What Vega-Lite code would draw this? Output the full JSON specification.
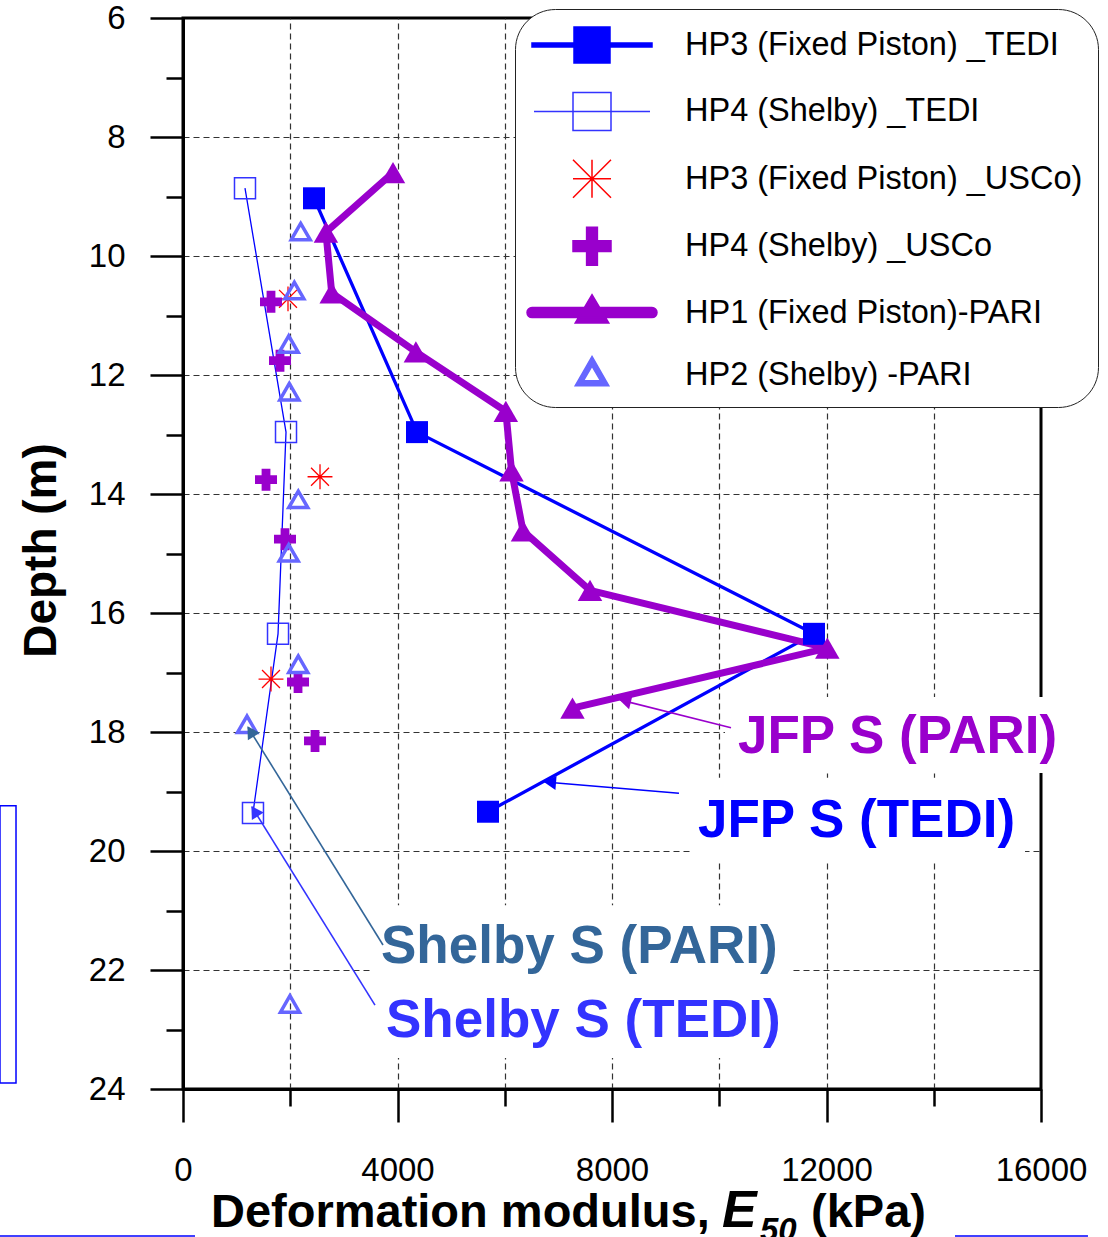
{
  "$schema": "https://vega.github.io/schema/vega-lite/v6.json",
  "width": 858,
  "height": 1071,
  "autosize": {"type": "none"},
  "padding": {"left": 183, "top": 18, "right": 67, "bottom": 148},
  "background": "white",
  "config": {
    "font": "Liberation Sans",
    "view": {"stroke": "black", "strokeWidth": 3}
  },
  "datasets": {
    "pts": [
      {"s": "HP3 (Fixed Piston) _TEDI", "E": 2443, "d": 9.03},
      {"s": "HP3 (Fixed Piston) _TEDI", "E": 4364, "d": 12.96},
      {"s": "HP3 (Fixed Piston) _TEDI", "E": 11767, "d": 16.35},
      {"s": "HP3 (Fixed Piston) _TEDI", "E": 5688, "d": 19.34},
      {"s": "HP4 (Shelby) _TEDI", "E": 1156, "d": 8.86},
      {"s": "HP4 (Shelby) _TEDI", "E": 1921, "d": 12.96},
      {"s": "HP4 (Shelby) _TEDI", "E": 1772, "d": 16.35},
      {"s": "HP4 (Shelby) _TEDI", "E": 1305, "d": 19.36},
      {"s": "HP3 (Fixed Piston) _USCo)", "E": 1958, "d": 10.72},
      {"s": "HP3 (Fixed Piston) _USCo)", "E": 2555, "d": 13.71},
      {"s": "HP3 (Fixed Piston) _USCo)", "E": 1641, "d": 17.11},
      {"s": "HP4 (Shelby) _USCo", "E": 1641, "d": 10.77},
      {"s": "HP4 (Shelby) _USCo", "E": 1809, "d": 11.76},
      {"s": "HP4 (Shelby) _USCo", "E": 1548, "d": 13.76},
      {"s": "HP4 (Shelby) _USCo", "E": 1902, "d": 14.76},
      {"s": "HP4 (Shelby) _USCo", "E": 2145, "d": 17.16},
      {"s": "HP4 (Shelby) _USCo", "E": 2462, "d": 18.15},
      {"s": "HP1 (Fixed Piston)-PARI", "E": 3916, "d": 8.6},
      {"s": "HP1 (Fixed Piston)-PARI", "E": 2665, "d": 9.6},
      {"s": "HP1 (Fixed Piston)-PARI", "E": 2773, "d": 10.62},
      {"s": "HP1 (Fixed Piston)-PARI", "E": 4343, "d": 11.61},
      {"s": "HP1 (Fixed Piston)-PARI", "E": 6020, "d": 12.61},
      {"s": "HP1 (Fixed Piston)-PARI", "E": 6126, "d": 13.61},
      {"s": "HP1 (Fixed Piston)-PARI", "E": 6340, "d": 14.62},
      {"s": "HP1 (Fixed Piston)-PARI", "E": 7590, "d": 15.62},
      {"s": "HP1 (Fixed Piston)-PARI", "E": 12015, "d": 16.59},
      {"s": "HP1 (Fixed Piston)-PARI", "E": 7263, "d": 17.6},
      {"s": "HP2 (Shelby) -PARI", "E": 2195, "d": 9.59},
      {"s": "HP2 (Shelby) -PARI", "E": 2076, "d": 10.58},
      {"s": "HP2 (Shelby) -PARI", "E": 1971, "d": 11.48},
      {"s": "HP2 (Shelby) -PARI", "E": 1983, "d": 12.28},
      {"s": "HP2 (Shelby) -PARI", "E": 2150, "d": 14.09},
      {"s": "HP2 (Shelby) -PARI", "E": 1971, "d": 14.99},
      {"s": "HP2 (Shelby) -PARI", "E": 2150, "d": 16.86},
      {"s": "HP2 (Shelby) -PARI", "E": 1193, "d": 17.87},
      {"s": "HP2 (Shelby) -PARI", "E": 1995, "d": 22.57}
    ],
    "boxes": [
      {"E": 10107, "E2": 16540, "d": 17.41, "d2": 18.69},
      {"E": 9455, "E2": 15702, "d": 18.77, "d2": 20.18},
      {"E": 3487, "E2": 11319, "d": 20.91, "d2": 23.48}
    ],
    "arrows": [
      {"grp": "JFP S (PARI)", "E": 10219, "d": 17.93, "E2": 8149, "d2": 17.46},
      {"grp": "JFP S (TEDI)", "E": 9249, "d": 19.03, "E2": 6751, "d2": 18.84},
      {"grp": "Shelby S (PARI)", "E": 3730, "d": 21.58, "E2": 1212, "d2": 17.92},
      {"grp": "Shelby S (TEDI)", "E": 3580, "d": 22.59, "E2": 1287, "d2": 19.26}
    ],
    "heads": [
      {"grp": "JFP S (PARI)", "E": 8240, "d": 17.48, "ang": 284},
      {"grp": "JFP S (TEDI)", "E": 6843, "d": 18.85, "ang": 274.7},
      {"grp": "Shelby S (PARI)", "E": 1261, "d": 17.99, "ang": 328.2},
      {"grp": "Shelby S (TEDI)", "E": 1335, "d": 19.33, "ang": 328}
    ],
    "notes": [
      {"grp": "JFP S (PARI)", "t": "JFP S (PARI)", "E": 10350, "d": 18.35},
      {"grp": "JFP S (TEDI)", "t": "JFP S (TEDI)", "E": 9604, "d": 19.76},
      {"grp": "Shelby S (PARI)", "t": "Shelby S (PARI)", "E": 3692, "d": 21.88},
      {"grp": "Shelby S (TEDI)", "t": "Shelby S (TEDI)", "E": 3786, "d": 23.12}
    ]
  },
  "encoding": {
    "x": {
      "field": "E", "type": "quantitative",
      "scale": {"domain": [0, 16000], "nice": false, "zero": false},
      "axis": {
        "title": null,
        "values": [0, 2000, 4000, 6000, 8000, 10000, 12000, 14000, 16000],
        "format": "d",
        "labelExpr": "datum.value % 4000 === 0 ? datum.label : ''",
        "labelFontSize": 33, "labelColor": "black", "labelPadding": 32,
        "labelFlush": false, "labelOverlap": false,
        "tickSize": {"condition": {"test": "datum.value % 4000 === 0", "value": 33}, "value": 17},
        "tickWidth": 2.5, "tickColor": "black",
        "domainColor": "black", "domainWidth": 3,
        "grid": true, "gridColor": "#333333", "gridDash": [6, 4], "gridWidth": 1.2,
        "gridOpacity": {"condition": {"test": "datum.value > 0 && datum.value < 16000", "value": 1}, "value": 0}
      }
    },
    "y": {
      "field": "d", "type": "quantitative",
      "scale": {"domain": [6, 24], "reverse": true, "nice": false, "zero": false},
      "axis": {
        "title": "Depth (m)",
        "titleFontSize": 46, "titleFontWeight": "bold", "titleColor": "black",
        "titleAngle": 270, "titleX": -128, "titleY": 532, "titleAlign": "center", "titleBaseline": "alphabetic",
        "values": [6, 7, 8, 9, 10, 11, 12, 13, 14, 15, 16, 17, 18, 19, 20, 21, 22, 23, 24],
        "labelExpr": "datum.value % 2 === 0 ? datum.label : ''",
        "labelFontSize": 33, "labelColor": "black", "labelPadding": 25,
        "labelFlush": false, "labelOverlap": false,
        "tickSize": {"condition": {"test": "datum.value % 2 === 0", "value": 33}, "value": 17},
        "tickWidth": 2.5, "tickColor": "black",
        "domainColor": "black", "domainWidth": 3,
        "grid": true, "gridColor": "#333333", "gridDash": [6, 4], "gridWidth": 1.2,
        "gridOpacity": {"condition": {"test": "datum.value % 2 === 0 && datum.value > 6 && datum.value < 24", "value": 1}, "value": 0}
      }
    }
  },
  "layer": [
    {
      "data": {"values": [{"E": -3413, "E2": -3114, "d": 19.24, "d2": 23.9}]},
      "mark": {"type": "rect", "fill": "transparent", "stroke": "#0000ff", "strokeWidth": 1.5},
      "encoding": {"x2": {"field": "E2"}, "y2": {"field": "d2"}}
    },
    {
      "data": {"values": [{"E": -3413, "E2": 224, "d": 26.47}, {"E": 14396, "E2": 16876, "d": 26.47}]},
      "mark": {"type": "rule", "stroke": "#0000ff", "strokeWidth": 1.5},
      "encoding": {"x2": {"field": "E2"}}
    },
    {
      "data": {"name": "boxes"},
      "mark": {"type": "rect", "fill": "white", "strokeWidth": 0},
      "encoding": {"x2": {"field": "E2"}, "y2": {"field": "d2"}}
    },
    {
      "data": {"name": "pts"},
      "transform": [{"filter": "datum.s === 'HP4 (Shelby) _TEDI'"}],
      "mark": {"type": "line", "color": "#0000ff", "strokeWidth": 1.3},
      "encoding": {"order": {"field": "d", "type": "quantitative"}}
    },
    {
      "data": {"name": "pts"},
      "transform": [{"filter": "datum.s === 'HP3 (Fixed Piston) _TEDI'"}],
      "mark": {"type": "line", "color": "#0000ff", "strokeWidth": 3.3},
      "encoding": {"order": {"field": "d", "type": "quantitative"}}
    },
    {
      "data": {"name": "pts"},
      "transform": [{"filter": "datum.s === 'HP1 (Fixed Piston)-PARI'"}],
      "mark": {"type": "line", "color": "#9900cc", "strokeWidth": 7},
      "encoding": {"order": {"field": "d", "type": "quantitative"}}
    },
    {
      "data": {"name": "pts"},
      "transform": [{"filter": "datum.s === 'HP3 (Fixed Piston) _TEDI'"}],
      "mark": {"type": "point", "shape": "square", "filled": true, "size": 484, "opacity": 1, "color": "#0000ff"}
    },
    {
      "data": {"name": "pts"},
      "transform": [{"filter": "datum.s === 'HP4 (Shelby) _TEDI'"}],
      "mark": {"type": "point", "shape": "square", "filled": false, "size": 441, "strokeWidth": 1.5, "opacity": 1, "color": "#3333ff"}
    },
    {
      "data": {"name": "pts"},
      "transform": [{"filter": "datum.s === 'HP3 (Fixed Piston) _USCo)'"}],
      "mark": {"type": "point", "shape": "M-1,0H1M0,-1V1M-0.72,-0.72L0.72,0.72M-0.72,0.72L0.72,-0.72", "filled": false, "size": 620, "strokeWidth": 1.3, "opacity": 1, "color": "#ff0000"}
    },
    {
      "data": {"name": "pts"},
      "transform": [{"filter": "datum.s === 'HP4 (Shelby) _USCo'"}],
      "mark": {"type": "point", "shape": "cross", "filled": true, "size": 484, "opacity": 1, "color": "#9900cc"}
    },
    {
      "data": {"name": "pts"},
      "transform": [{"filter": "datum.s === 'HP1 (Fixed Piston)-PARI'"}],
      "mark": {"type": "point", "shape": "triangle-up", "filled": true, "size": 600, "opacity": 1, "color": "#9900cc"}
    },
    {
      "data": {"name": "pts"},
      "transform": [{"filter": "datum.s === 'HP2 (Shelby) -PARI'"}],
      "mark": {"type": "point", "shape": "triangle-up", "filled": false, "size": 360, "strokeWidth": 3.5, "opacity": 1, "color": "#6666ff"}
    },
    {
      "data": {"name": "pts"},
      "transform": [{"filter": "false"}],
      "mark": {"type": "point", "opacity": 1, "strokeWidth": 1.5},
      "encoding": {
        "shape": {
          "field": "s", "type": "nominal",
          "scale": {
            "domain": ["HP3 (Fixed Piston) _TEDI", "HP4 (Shelby) _TEDI", "HP3 (Fixed Piston) _USCo)", "HP4 (Shelby) _USCo", "HP1 (Fixed Piston)-PARI", "HP2 (Shelby) -PARI"],
            "range": [
              "M-3,-0.1H3V0.1H-3ZM-0.9,-0.9H0.9V0.9H-0.9Z",
              "M-2.9,0H2.9M-0.95,-0.95H0.95V0.95H-0.95Z",
              "M-0.95,0H0.95M0,-0.95V0.95M-0.95,-0.95L0.95,0.95M-0.95,0.95L0.95,-0.95",
              "M-0.95,-0.27H-0.27V-0.95H0.27V-0.27H0.95V0.27H0.27V0.95H-0.27V0.27H-0.95Z",
              "M-3,-0.25H3A0.25,0.25,0,0,1,3,0.25H-3A0.25,0.25,0,0,1,-3,-0.25ZM0,-0.9L0.84,0.52L-0.84,0.52Z",
              "M0,-0.93L0.84,0.54L-0.84,0.54ZM0,-0.45L-0.43,0.29L0.43,0.29Z"
            ]
          },
          "legend": {
            "title": null, "orient": "none", "legendX": 332, "legendY": -9,
            "fillColor": "white", "strokeColor": "#222222", "cornerRadius": 40, "padding": 15,
            "symbolSize": 1600, "symbolOffset": 41, "labelOffset": 72, "rowPadding": 23.4,
            "symbolStrokeWidth": 1.5, "symbolOpacity": 1,
            "labelFont": "Liberation Sans", "labelFontSize": 32.5, "labelColor": "black", "labelLimit": 700
          }
        },
        "fill": {
          "field": "s", "type": "nominal",
          "scale": {
            "domain": ["HP3 (Fixed Piston) _TEDI", "HP4 (Shelby) _TEDI", "HP3 (Fixed Piston) _USCo)", "HP4 (Shelby) _USCo", "HP1 (Fixed Piston)-PARI", "HP2 (Shelby) -PARI"],
            "range": ["#0000ff", "transparent", "transparent", "#9900cc", "#9900cc", "#6666ff"]
          }
        },
        "stroke": {
          "field": "s", "type": "nominal",
          "scale": {
            "domain": ["HP3 (Fixed Piston) _TEDI", "HP4 (Shelby) _TEDI", "HP3 (Fixed Piston) _USCo)", "HP4 (Shelby) _USCo", "HP1 (Fixed Piston)-PARI", "HP2 (Shelby) -PARI"],
            "range": ["#0000ff", "#3333ff", "#ff0000", "#9900cc", "#9900cc", "#6666ff"]
          }
        }
      }
    },
    {
      "data": {"name": "arrows"},
      "mark": {"type": "rule", "strokeWidth": 1.6},
      "encoding": {
        "x2": {"field": "E2"}, "y2": {"field": "d2"},
        "color": {"field": "grp", "type": "nominal", "legend": null,
          "scale": {"domain": ["JFP S (PARI)", "JFP S (TEDI)", "Shelby S (PARI)", "Shelby S (TEDI)"], "range": ["#9900cc", "#0000ff", "#336699", "#3333ff"]}}
      }
    },
    {
      "data": {"name": "heads"},
      "mark": {"type": "point", "shape": "triangle-up", "filled": true, "size": 196, "opacity": 1},
      "encoding": {
        "angle": {"field": "ang", "type": "quantitative", "scale": null},
        "color": {"field": "grp", "type": "nominal", "legend": null}
      }
    },
    {
      "data": {"name": "notes"},
      "mark": {"type": "text", "align": "left", "baseline": "alphabetic", "fontSize": 53, "fontWeight": "bold"},
      "encoding": {
        "text": {"field": "t"},
        "color": {"field": "grp", "type": "nominal", "legend": null}
      }
    },
    {
      "data": {"values": [{"t": "Deformation modulus,", "E": 522, "d": 26.32}, {"t": "(kPa)", "E": 11711, "d": 26.32}]},
      "mark": {"type": "text", "align": "left", "baseline": "alphabetic", "fontSize": 47, "fontWeight": "bold", "color": "black"},
      "encoding": {"text": {"field": "t"}}
    },
    {
      "data": {"values": [{"t": "E", "E": 10051, "d": 26.32}]},
      "mark": {"type": "text", "align": "left", "baseline": "alphabetic", "fontSize": 52, "fontWeight": "bold", "fontStyle": "italic", "color": "black"},
      "encoding": {"text": {"field": "t"}}
    },
    {
      "data": {"values": [{"t": "50", "E": 10760, "d": 26.55}]},
      "mark": {"type": "text", "align": "left", "baseline": "alphabetic", "fontSize": 33, "fontWeight": "bold", "fontStyle": "italic", "color": "black"},
      "encoding": {"text": {"field": "t"}}
    }
  ]
}
